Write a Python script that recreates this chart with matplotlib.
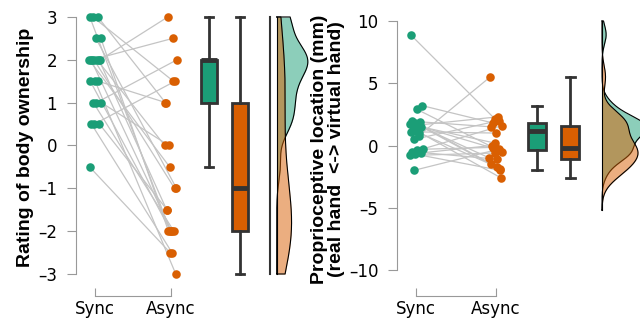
import numpy as np
import matplotlib.pyplot as plt
from matplotlib.ticker import FuncFormatter

# Data
groups = ["Sync", "Async"]

# body ownership ratings, paired by participant
own_sync = [3, 3, 3, 2.5, 2.5, 2, 2, 2, 2, 2, 2, 2, 1.5, 1.5, 1.5, 1, 1, 1, 0.5, 0.5, 0.5, -0.5]
own_async = [-2, 1, 1.5, -2, -1, -2, -1.5, -1, -0.5, 0, 2.5, 3, -3, -2, 1, -2, 0, 2, -2.5, -1.5, 1.5, -2.5]

# proprioceptive drift (mm), paired by participant
drift_sync = [8.9, 0.8, -2.0, 3.2, 2.9, 2.0, 1.9, 1.8, 1.7, 1.6, 1.6, 1.5, 1.2, 1.1, 1.0, 0.5,
              -0.3, -0.4, -0.5, -0.6, -0.7, -0.8]
drift_async = [2.1, 5.5, -0.3, 1.8, -0.5, -1.7, 1.5, -1.9, 0.2, -1.0, 2.3, -0.2, -2.6, 1.0, -1.5, 2.0,
               -0.15, 1.6, -1.1, 0.0, -2.0, -0.6]

GREEN = "#1b9e77"
ORANGE = "#d95f02"
EDGE = "#333333"
AXCOL = "#999999"

plt.rcParams["font.family"] = "DejaVu Sans"


def kde(v, grid):
    v = np.asarray(v, float)
    iqr = np.subtract(*np.percentile(v, [75, 25]))
    bw = 0.9 * min(v.std(ddof=1), iqr / 1.34) * len(v) ** -0.2
    d = np.exp(-0.5 * ((grid[:, None] - v[None, :]) / bw) ** 2).sum(1)
    return d / (len(v) * bw * np.sqrt(2 * np.pi))


def jitter(n, phase, width=0.17):
    return ((np.arange(n) * 0.618034 + phase) % 1 - 0.5) * width


def tick_fmt(v, pos):
    s = "%g" % abs(v)
    return "\u2013" + s if v < 0 else s


def draw_panel(ax, a, b, ticks, ylim, xlim, grid, base, peak, peak_of, boxpos, boxw, capw, extra=None):
    a = np.asarray(a, float)
    b = np.asarray(b, float)
    xa = 1 + jitter(len(a), 0.1)
    xb = 2 + jitter(len(b), 0.45)

    # paired lines
    for i in range(len(a)):
        ax.plot([xa[i], xb[i]], [a[i], b[i]], color="#c4c4c4", lw=0.9, zorder=1)
    ax.scatter(xa, a, s=38, color=GREEN, zorder=3, linewidths=0)
    ax.scatter(xb, b, s=38, color=ORANGE, zorder=3, linewidths=0)

    # boxes
    bp = ax.boxplot([a, b], positions=boxpos, widths=boxw, patch_artist=True, showfliers=False,
                    capwidths=capw, manage_ticks=False,
                    boxprops=dict(edgecolor=EDGE, linewidth=2),
                    whiskerprops=dict(color=EDGE, linewidth=2),
                    capprops=dict(color=EDGE, linewidth=2),
                    medianprops=dict(color=EDGE, linewidth=3.5))
    for patch, c in zip(bp["boxes"], [GREEN, ORANGE]):
        patch.set_facecolor(c)

    # densities, closed at both ends
    da = kde(a, grid)
    db = kde(b, grid)
    sc = peak / (da.max() if peak_of == 0 else db.max())
    gy = np.r_[grid[0], grid, grid[-1]]
    for d, c in [(da, GREEN), (db, ORANGE)]:
        dx = base + np.r_[0, d * sc, 0]
        ax.fill_betweenx(gy, base, dx, color=c, alpha=0.5, lw=0, zorder=2)
        ax.plot(dx, gy, color="black", lw=0.8, zorder=2)
    ax.plot([base, base], [grid[0], grid[-1]], color="black", lw=0.8, zorder=2)
    if extra is not None:
        ax.plot([extra, extra], [grid[0], grid[-1]], color=EDGE, lw=1.5, zorder=2)

    ax.set_xlim(*xlim)
    ax.set_ylim(*ylim)
    for s in ["top", "right"]:
        ax.spines[s].set_visible(False)
    ax.spines["left"].set_bounds(ticks[0], ticks[-1])
    ax.spines["left"].set_color(AXCOL)
    ax.spines["bottom"].set_bounds(1, 2)
    ax.spines["bottom"].set_position(("outward", 10))
    ax.spines["bottom"].set_color(AXCOL)
    ax.set_yticks(ticks)
    ax.yaxis.set_major_formatter(FuncFormatter(tick_fmt))
    ax.set_xticks([1, 2])
    ax.set_xticklabels(groups)
    ax.tick_params(axis="y", direction="out", length=6.5, color=AXCOL, pad=7, labelsize=12)
    ax.tick_params(axis="x", direction="in", length=6, color=AXCOL, pad=3, labelsize=12)


fig = plt.figure(figsize=(6.4, 3.22), dpi=100)
W, H = 640, 322

ax1 = fig.add_axes([76 / W, (H - 282) / H, 244 / W, 272 / H])
draw_panel(ax1, own_sync, own_async, [-3, -2, -1, 0, 1, 2, 3], (-3.187, 3.163), (0.75, 3.96),
           np.linspace(-3, 3, 300), 3.39, 0.41, 0, [2.5, 2.91], 0.21, 0.1, extra=3.3)

ax2 = fig.add_axes([397 / W, (H - 282) / H, 243 / W, 272 / H])
draw_panel(ax2, drift_sync, drift_async, [-10, -5, 0, 5, 10], (-10.96, 10.88), (0.7625, 3.8),
           np.linspace(-5.2, 10, 300), 3.325, 0.45, 1, [2.51, 2.93], 0.225, 0.12)

fig.text(26 / W, 1 - 147 / H, "Rating of body ownership", rotation=90, ha="center", va="center",
         fontsize=14, fontweight="bold", family="Liberation Sans")
fig.text(328 / W, 1 - 149 / H, "Proprioceptive location (mm)\n(real hand  <-> virtual hand)",
         rotation=90, ha="center", va="center", multialignment="center", linespacing=1.05,
         fontsize=14, fontweight="bold", family="Liberation Sans")

plt.savefig("out.png", dpi=100)
